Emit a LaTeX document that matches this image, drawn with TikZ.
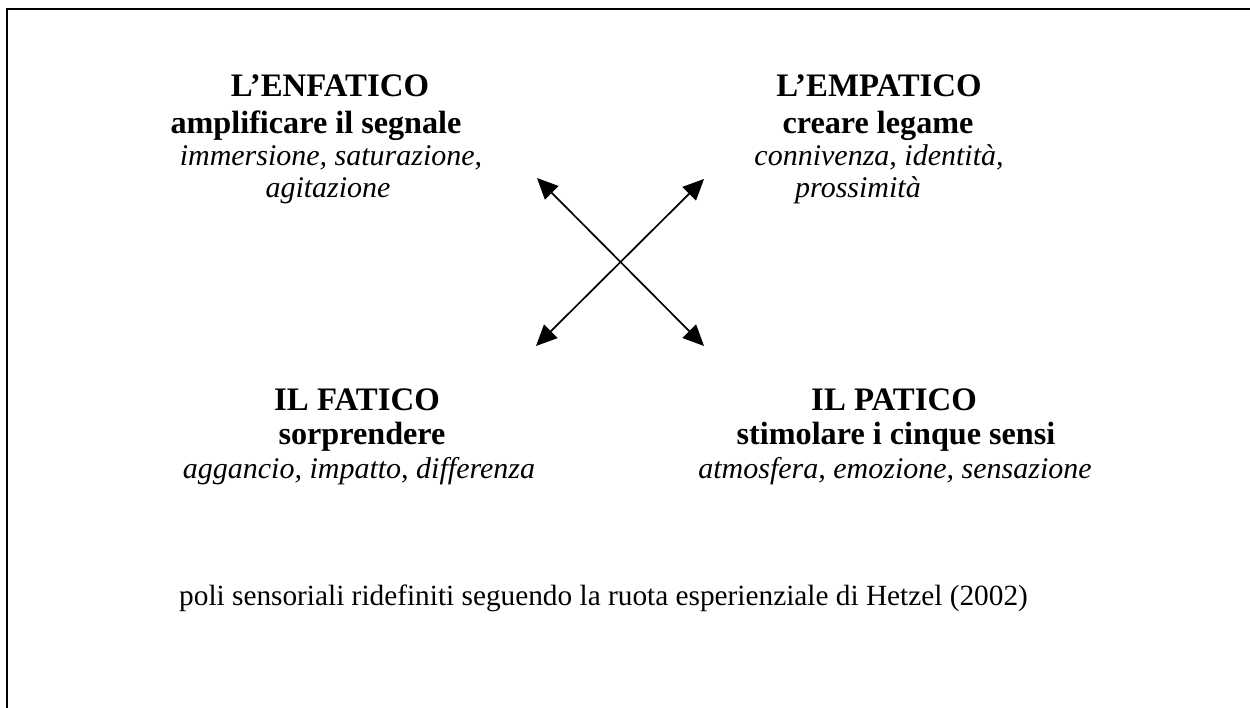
\documentclass[tikz,border=0pt]{standalone}
\usepackage{fontspec}
\setmainfont{Liberation Serif}
\usetikzlibrary{arrows.meta}
\tikzset{
  head/.style={anchor=base, inner sep=0pt, font=\fontsize{32.8}{38}\selectfont\bfseries},
  sub/.style={anchor=base, inner sep=0pt, font=\fontsize{32.2}{38}\selectfont\bfseries},
  desc/.style={anchor=base, inner sep=0pt, font=\fontsize{30}{36}\selectfont\itshape},
  note/.style={anchor=base west, inner sep=0pt, font=\fontsize{29.3}{35}\selectfont},
  dbl/.style={line width=1.7pt, {Triangle[length=21pt,width=19pt]}-{Triangle[length=21pt,width=19pt]}},
  frame/.style={line width=2pt}
}
\begin{document}
\begin{tikzpicture}[x=1pt,y=-1pt]
\useasboundingbox (0,0) rectangle (1250,708);
\draw[frame] (1250,9.3) -- (7,9.3) -- (7,708);
% top-left
\node[head] (enf) at (330,97) {L’ENFATICO};
\node[sub] (enfs) at (316,134) {amplificare il segnale};
\node[desc] (enfd1) at (331,166) {immersione, saturazione,};
\node[desc] (enfd2) at (328,198) {agitazione};
% top-right
\node[head] (emp) at (879,97) {L’EMPATICO};
\node[sub] (emps) at (878,134) {creare legame};
\node[desc] (empd1) at (879,166) {connivenza, identità,};
\node[desc] (empd2) at (858,198) {prossimità};
% bottom-left
\node[head] (fat) at (357,410) {IL FATICO};
\node[sub] (fats) at (362,444) {sorprendere};
\node[desc] (fatd) at (359,478) {aggancio, impatto, differenza};
% bottom-right
\node[head] (pat) at (894,410) {IL PATICO};
\node[sub] (pats) at (896,444) {stimolare i cinque sensi};
\node[desc] (patd) at (895,478) {atmosfera, emozione, sensazione};
% note
\node[note] (nt) at (179,605) {poli sensoriali ridefiniti seguendo la ruota esperienziale di Hetzel (2002)};
% arrows
\coordinate (ul) at (537,178);
\coordinate (lr) at (704,346);
\coordinate (ll) at (536,346);
\coordinate (ur) at (704,179);
\draw[dbl] (ul) -- (lr);
\draw[dbl] (ll) -- (ur);
\end{tikzpicture}
\end{document}
